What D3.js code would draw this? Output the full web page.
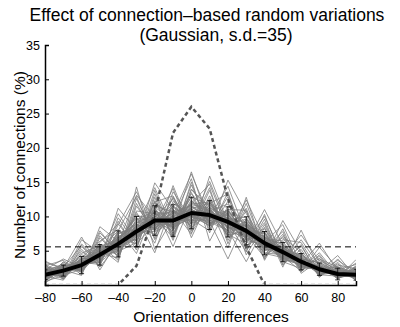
<!DOCTYPE html>
<html>
<head>
<meta charset="utf-8">
<script src="https://cdn.jsdelivr.net/npm/d3@7"></script>
<style>
  body { margin: 0; background: #fff; }
  svg { display: block; font-family: "Liberation Sans", Arial, sans-serif; }
</style>
</head>
<body>
<svg id="chart" width="400" height="327"></svg>
<script>
// orientation difference bins (deg)
const angles = [-80, -70, -60, -50, -40, -30, -20, -10, 0, 10, 20, 30, 40, 50, 60, 70, 80, 90];

// mean over the random networks (%) and its s.d.
const meanPct = [1.5, 2.1, 2.9, 4.4, 6.0, 7.8, 9.4, 9.4, 10.5, 10.2, 9.2, 7.9, 6.1, 4.8, 3.4, 2.3, 1.6, 1.5];
const sdPct = [0.7, 0.8, 1.25, 1.5, 1.9, 2.2, 2.15, 2.3, 2.3, 2.1, 2.2, 2.05, 1.7, 1.4, 1.2, 0.9, 0.85, 0.8];

// connection profile without variation (dashed grey)
const basePct = [0, 0, 0, 0, 0, 2.8, 10.5, 22.2, 26, 22.8, 12.6, 5.5, 0, 0, 0, 0, 0, 0];

// uniform level, 100 / 18 bins
const uniformPct = 5.56;

// individual random networks (thin grey)
const trialsPct = [
  [1.2, 2.8, 2.1, 5.3, 7.9, 6.4, 11.2, 8.1, 12.9, 9.0, 10.4, 6.5, 7.3, 4.1, 4.2, 1.9, 2.3, 1.0],
  [2.0, 1.6, 3.9, 3.8, 5.1, 9.6, 8.2, 10.8, 9.3, 12.0, 8.1, 9.2, 5.0, 5.6, 2.7, 2.8, 1.2, 1.9],
  [0.9, 2.4, 2.7, 5.9, 4.6, 8.3, 10.7, 7.6, 11.4, 10.9, 7.6, 8.8, 6.9, 3.9, 3.9, 1.6, 2.0, 1.3],
  [1.8, 1.3, 3.5, 4.0, 7.2, 7.1, 8.6, 11.3, 10.0, 8.7, 11.1, 6.9, 5.4, 5.9, 2.8, 3.1, 1.4, 2.1],
  [1.4, 2.6, 1.9, 4.9, 6.3, 10.1, 9.7, 9.0, 13.3, 10.5, 8.4, 7.2, 7.8, 3.6, 3.6, 2.0, 1.9, 1.1],
  [2.3, 1.8, 3.2, 3.3, 5.5, 6.7, 12.0, 9.9, 8.9, 11.6, 9.6, 9.9, 5.6, 5.3, 2.3, 2.6, 1.0, 1.7],
  [1.0, 2.2, 3.8, 5.0, 6.8, 8.9, 7.3, 10.3, 11.1, 9.3, 10.8, 7.6, 4.7, 4.4, 4.6, 1.8, 2.4, 1.4],
  [1.7, 2.9, 2.4, 4.3, 4.9, 7.6, 10.1, 8.5, 9.7, 12.4, 7.0, 8.3, 6.6, 6.1, 3.1, 2.4, 1.5, 2.3],
  [2.6, 1.5, 3.0, 5.6, 6.6, 9.2, 8.8, 11.9, 10.3, 8.6, 9.9, 5.8, 7.1, 4.6, 3.8, 3.3, 1.8, 0.9],
  [1.3, 2.0, 4.4, 3.6, 7.7, 8.0, 9.3, 7.9, 12.2, 10.8, 11.8, 8.4, 5.9, 3.9, 2.9, 2.1, 2.7, 1.6],
  [0.8, 2.5, 2.6, 4.8, 5.4, 10.8, 10.4, 9.4, 9.8, 9.8, 8.9, 9.6, 6.3, 5.0, 4.0, 1.5, 1.3, 2.0],
  [2.1, 1.9, 3.4, 4.6, 6.1, 7.3, 11.6, 10.6, 11.7, 11.2, 7.8, 7.0, 8.2, 4.2, 3.3, 2.7, 1.7, 1.2],
  [1.6, 2.3, 2.2, 5.2, 7.0, 6.0, 8.9, 8.8, 10.6, 9.6, 10.1, 8.0, 5.2, 5.5, 3.5, 2.2, 2.1, 1.8],
  [1.1, 1.7, 3.6, 4.1, 5.8, 8.7, 9.9, 12.5, 8.4, 10.4, 9.4, 6.2, 6.8, 4.5, 2.6, 3.0, 1.1, 1.5],
  [2.4, 2.7, 2.8, 3.9, 6.9, 7.7, 7.8, 9.1, 12.8, 11.7, 8.7, 8.6, 5.5, 5.2, 4.3, 1.7, 1.9, 1.3],
  [1.5, 2.1, 3.1, 5.5, 5.2, 9.4, 10.9, 8.3, 10.1, 9.1, 10.6, 7.8, 7.5, 3.8, 3.2, 2.5, 1.6, 1.7],
  [3.2, 1.0, 4.9, 2.9, 9.8, 5.9, 13.8, 7.2, 14.6, 8.5, 12.9, 5.5, 9.1, 3.3, 5.7, 1.4, 3.3, 0.8],
  [0.4, 3.4, 1.5, 6.9, 4.2, 11.9, 7.1, 12.9, 8.1, 13.8, 6.5, 11.2, 4.4, 7.4, 2.1, 3.9, 0.9, 2.6],
  [2.9, 0.9, 5.6, 3.2, 8.8, 13.6, 8.0, 10.2, 16.2, 9.9, 14.4, 7.4, 4.0, 6.6, 6.2, 1.9, 3.6, 1.9],
  [0.6, 3.0, 2.0, 7.6, 4.9, 6.2, 14.9, 11.0, 7.4, 15.9, 9.1, 4.8, 10.3, 3.4, 2.4, 4.7, 1.4, 3.2],
  [1.9, 1.2, 6.6, 4.7, 3.9, 10.6, 6.1, 13.6, 9.6, 7.9, 15.3, 10.4, 6.2, 8.8, 2.9, 2.0, 4.3, 1.1],
  [3.5, 2.2, 1.4, 8.5, 6.4, 5.4, 12.8, 6.5, 13.9, 11.4, 5.4, 12.8, 4.6, 4.0, 7.3, 3.5, 1.0, 3.7],
  [0.3, 2.0, 3.3, 3.0, 11.2, 7.9, 9.0, 14.1, 6.9, 12.6, 7.4, 6.0, 11.0, 5.8, 1.9, 5.5, 2.5, 0.7],
  [2.2, 3.8, 2.5, 5.4, 3.3, 14.3, 5.2, 9.7, 15.5, 6.4, 11.5, 9.0, 3.8, 9.4, 4.8, 1.2, 2.9, 2.4],
  [1.3, 0.7, 4.0, 6.4, 8.1, 4.6, 11.3, 5.6, 11.9, 14.7, 8.0, 3.4, 8.4, 2.6, 8.0, 2.5, 1.4, 2.1],
  [0.5, 2.4, 7.0, 2.2, 6.5, 9.9, 4.7, 12.2, 10.0, 9.3, 3.8, 9.7, 5.3, 6.9, 3.0, 6.1, 2.0, 1.0],
  [1.7, 2.0, 2.9, 4.2, 6.3, 7.9, 9.0, 9.6, 10.9, 10.0, 9.0, 8.1, 6.0, 4.9, 3.2, 2.4, 1.5, 1.6],
  [1.2, 2.3, 3.3, 4.6, 5.6, 8.4, 9.8, 9.1, 10.2, 10.6, 9.5, 7.5, 6.4, 4.6, 3.6, 2.1, 1.8, 1.4],
  [1.9, 1.8, 2.6, 4.9, 6.5, 7.2, 9.5, 10.0, 11.0, 9.7, 8.6, 8.3, 5.8, 5.1, 3.0, 2.6, 1.3, 1.7],
  [1.4, 2.5, 3.0, 4.0, 5.9, 8.2, 8.7, 9.9, 9.9, 10.3, 9.8, 7.7, 6.6, 4.3, 3.7, 2.0, 1.7, 1.3],
  [2.0, 2.1, 3.7, 4.5, 6.7, 7.5, 10.3, 8.8, 10.7, 11.0, 8.9, 8.7, 5.7, 5.4, 3.1, 2.8, 1.4, 1.9],
  [1.0, 2.6, 2.5, 4.4, 5.3, 8.6, 9.1, 10.4, 11.5, 9.4, 9.7, 7.4, 6.7, 4.7, 3.9, 1.8, 2.0, 1.5],
  [1.6, 1.9, 3.2, 5.1, 6.2, 7.4, 10.0, 9.3, 9.5, 10.7, 8.3, 8.2, 6.2, 4.0, 3.4, 2.3, 1.6, 1.2],
  [1.3, 2.2, 2.7, 3.7, 6.0, 8.1, 8.4, 10.1, 11.3, 10.1, 10.2, 7.3, 5.9, 5.0, 3.3, 2.5, 1.9, 1.8],
  [1.8, 2.4, 3.1, 4.7, 5.7, 7.9, 9.6, 8.6, 10.4, 9.9, 9.3, 8.5, 6.5, 4.4, 3.5, 2.2, 1.2, 1.4],
  [1.5, 1.6, 2.8, 4.3, 6.6, 7.0, 9.2, 9.8, 10.0, 10.9, 8.8, 7.9, 5.6, 5.2, 3.8, 2.0, 1.8, 1.6],
  [1.1, 2.7, 3.4, 3.5, 7.4, 8.8, 8.1, 10.9, 9.2, 11.3, 10.0, 6.8, 7.0, 4.8, 2.5, 2.9, 1.3, 1.9],
  [2.5, 1.4, 2.3, 5.8, 5.0, 6.9, 10.6, 8.0, 12.4, 9.2, 7.9, 9.4, 5.1, 5.7, 4.1, 1.6, 2.2, 1.1],
  [0.7, 2.2, 4.1, 4.4, 6.8, 9.7, 9.4, 11.0, 9.0, 10.0, 10.9, 7.1, 6.1, 3.7, 3.0, 2.7, 1.5, 2.2],
  [1.9, 3.1, 2.0, 5.0, 5.5, 7.0, 11.4, 9.2, 11.8, 12.1, 8.3, 8.9, 7.0, 5.5, 3.6, 1.5, 1.9, 1.0],
  [1.4, 1.5, 3.9, 3.9, 7.0, 8.5, 8.0, 9.7, 10.8, 8.8, 10.5, 7.0, 5.3, 4.1, 4.5, 2.4, 1.2, 1.8],
  [2.2, 2.4, 2.8, 5.4, 4.4, 9.0, 10.2, 10.7, 8.6, 11.3, 9.1, 8.6, 6.9, 5.9, 2.7, 2.3, 2.0, 1.5],
  [0.9, 1.9, 3.5, 4.2, 6.5, 6.6, 9.6, 8.4, 12.0, 10.6, 7.3, 7.9, 5.5, 4.3, 3.8, 3.2, 1.4, 1.2],
  [1.6, 2.8, 2.2, 4.6, 6.2, 10.3, 8.5, 10.6, 10.1, 9.0, 9.7, 9.1, 6.6, 5.3, 3.1, 1.9, 2.2, 2.0],
  [2.0, 2.0, 3.0, 3.4, 7.6, 7.5, 10.8, 9.5, 11.2, 11.9, 10.3, 6.6, 5.8, 4.5, 3.4, 2.6, 1.6, 1.3],
  [1.2, 2.5, 3.6, 5.7, 5.1, 8.0, 9.1, 11.5, 9.4, 9.5, 8.0, 8.0, 7.6, 3.9, 4.4, 2.1, 1.7, 1.7],
  [1.8, 1.7, 2.5, 4.0, 6.9, 9.1, 10.5, 8.7, 10.6, 10.8, 9.2, 7.4, 6.2, 5.6, 2.9, 2.5, 1.8, 1.4],
  [1.5, 2.3, 3.3, 4.9, 5.9, 7.3, 8.3, 10.5, 11.6, 9.7, 10.7, 8.8, 5.7, 4.6, 3.7, 2.0, 1.5, 1.9],
  [2.7, 2.0, 2.7, 4.5, 6.4, 8.3, 9.6, 9.6, 10.6, 10.4, 8.5, 7.7, 6.4, 4.9, 3.3, 2.3, 1.3, 1.6],
  [1.0, 2.6, 3.1, 4.3, 6.1, 7.7, 9.4, 9.2, 10.3, 10.2, 9.0, 8.0, 6.0, 4.7, 3.5, 2.4, 1.7, 1.5],
  [1.7, 2.1, 2.9, 4.8, 5.6, 8.6, 8.9, 9.9, 11.0, 9.8, 9.6, 7.6, 6.3, 4.8, 3.1, 2.2, 1.6, 1.7],
  [1.3, 1.8, 3.2, 4.1, 6.4, 7.6, 10.0, 8.9, 10.1, 10.5, 8.8, 8.2, 5.9, 5.0, 3.6, 2.4, 1.9, 1.3],
  [2.8, 3.6, 1.8, 7.2, 4.0, 12.6, 6.8, 14.5, 7.9, 13.0, 7.0, 10.8, 3.6, 8.2, 2.2, 4.2, 0.8, 2.8],
  [0.5, 1.4, 5.2, 2.7, 9.3, 5.1, 13.3, 6.8, 15.0, 7.6, 13.6, 5.0, 9.6, 2.9, 5.9, 1.1, 3.8, 1.0],
  [3.0, 0.8, 4.6, 5.9, 3.6, 11.5, 7.9, 12.7, 8.8, 14.2, 6.0, 11.9, 5.1, 7.8, 1.7, 3.6, 2.2, 3.0],
  [1.1, 3.3, 2.2, 6.2, 8.9, 5.6, 12.3, 7.0, 13.5, 8.1, 12.2, 4.4, 8.8, 3.0, 5.2, 1.3, 3.1, 0.6],
  [2.4, 1.1, 6.0, 3.1, 7.9, 12.9, 6.6, 11.6, 9.0, 15.1, 8.6, 6.3, 10.0, 4.2, 2.0, 4.4, 1.1, 2.7],
  [0.6, 2.8, 2.4, 7.9, 4.5, 8.4, 14.2, 8.2, 16.5, 8.9, 11.0, 10.9, 4.1, 7.1, 4.7, 1.5, 2.6, 1.2],
  [1.9, 0.9, 3.8, 4.2, 10.4, 6.3, 12.1, 13.0, 7.6, 11.9, 13.3, 6.6, 7.7, 3.5, 6.6, 2.8, 0.9, 2.3],
  [3.3, 2.5, 5.8, 2.6, 6.0, 13.1, 9.8, 6.9, 14.0, 10.7, 7.2, 12.4, 6.8, 6.4, 2.6, 3.8, 2.6, 1.4]
];

const xTicks = [-80, -60, -40, -20, 0, 20, 40, 60, 80];
const yTicks = [5, 10, 15, 20, 25, 30, 35];

const svg = d3.select('#chart');

const x = d3.scaleLinear().domain([-80, 90]).range([45, 356]);
const y = d3.scaleLinear().domain([0, 35]).range([285, 45]);

const line = d3.line()
  .x((d, i) => x(angles[i]))
  .y(d => y(d));

// stop just above the x axis so zero segments stay hidden under it
svg.append('clipPath').attr('id', 'plot')
  .append('rect')
  .attr('x', x(-80)).attr('y', y(35))
  .attr('width', x(90) - x(-80)).attr('height', y(0) - y(35) - 1.5);

const plot = svg.append('g').attr('clip-path', 'url(#plot)');

// thin grey lines, one per random network
plot.selectAll('.trial')
  .data(trialsPct)
  .enter()
  .append('path')
  .attr('d', line)
  .attr('fill', 'none')
  .attr('stroke', '#7d7d7d')
  .attr('stroke-width', 0.8);

// uniform level
plot.append('line')
  .attr('x1', x(-80)).attr('x2', x(90))
  .attr('y1', y(uniformPct)).attr('y2', y(uniformPct))
  .attr('stroke', '#000')
  .attr('stroke-width', 1)
  .attr('stroke-dasharray', '6,4');

// original profile
plot.append('path')
  .attr('d', line(basePct))
  .attr('fill', 'none')
  .attr('stroke', '#555')
  .attr('stroke-width', 2.5)
  .attr('stroke-dasharray', '4,3');

// error bars
const bars = plot.selectAll('.err')
  .data(angles)
  .enter()
  .append('g')
  .attr('stroke', '#000')
  .attr('stroke-width', 0.8);

bars.append('line')
  .attr('x1', d => x(d)).attr('x2', d => x(d))
  .attr('y1', (d, i) => y(meanPct[i] - sdPct[i]))
  .attr('y2', (d, i) => y(meanPct[i] + sdPct[i]));

bars.append('line')
  .attr('x1', d => x(d) - 2.5).attr('x2', d => x(d) + 2.5)
  .attr('y1', (d, i) => y(meanPct[i] + sdPct[i]))
  .attr('y2', (d, i) => y(meanPct[i] + sdPct[i]));

bars.append('line')
  .attr('x1', d => x(d) - 2.5).attr('x2', d => x(d) + 2.5)
  .attr('y1', (d, i) => y(meanPct[i] - sdPct[i]))
  .attr('y2', (d, i) => y(meanPct[i] - sdPct[i]));

// mean
plot.append('path')
  .attr('d', line(meanPct))
  .attr('fill', 'none')
  .attr('stroke', '#000')
  .attr('stroke-width', 4)
  .attr('stroke-linejoin', 'round');

// axes
const fmt = d => String(d).replace('-', '\u2013');

const xAxis = svg.append('g')
  .attr('transform', 'translate(0,' + y(0) + ')')
  .call(d3.axisBottom(x).tickValues(xTicks).tickSize(-4).tickPadding(8).tickFormat(fmt));

const yAxis = svg.append('g')
  .attr('transform', 'translate(' + x(-80) + ',0)')
  .call(d3.axisLeft(y).tickValues(yTicks).tickSize(-4).tickPadding(5).tickFormat(fmt));

[xAxis, yAxis].forEach(g => {
  g.select('.domain').attr('stroke', '#000').attr('stroke-width', 1.5);
  g.selectAll('.tick line').attr('stroke', '#000');
  g.selectAll('text')
    .attr('fill', '#000')
    .style('font-size', '12.5px')
    .style('font-family', '"Liberation Sans", Arial, sans-serif');
});

// titles
svg.append('text')
  .attr('x', 207).attr('y', 21)
  .attr('text-anchor', 'middle')
  .style('font-size', '17.5px')
  .text('Effect of connection\u2013based random variations');

svg.append('text')
  .attr('x', 216).attr('y', 41)
  .attr('text-anchor', 'middle')
  .style('font-size', '17.5px')
  .text('(Gaussian, s.d.=35)');

svg.append('text')
  .attr('x', 211).attr('y', 322)
  .attr('text-anchor', 'middle')
  .style('font-size', '15.5px')
  .text('Orientation differences');

svg.append('text')
  .attr('transform', 'translate(25,165) rotate(-90)')
  .attr('text-anchor', 'middle')
  .style('font-size', '15.5px')
  .text('Number of connections (%)');
</script>
</body>
</html>
